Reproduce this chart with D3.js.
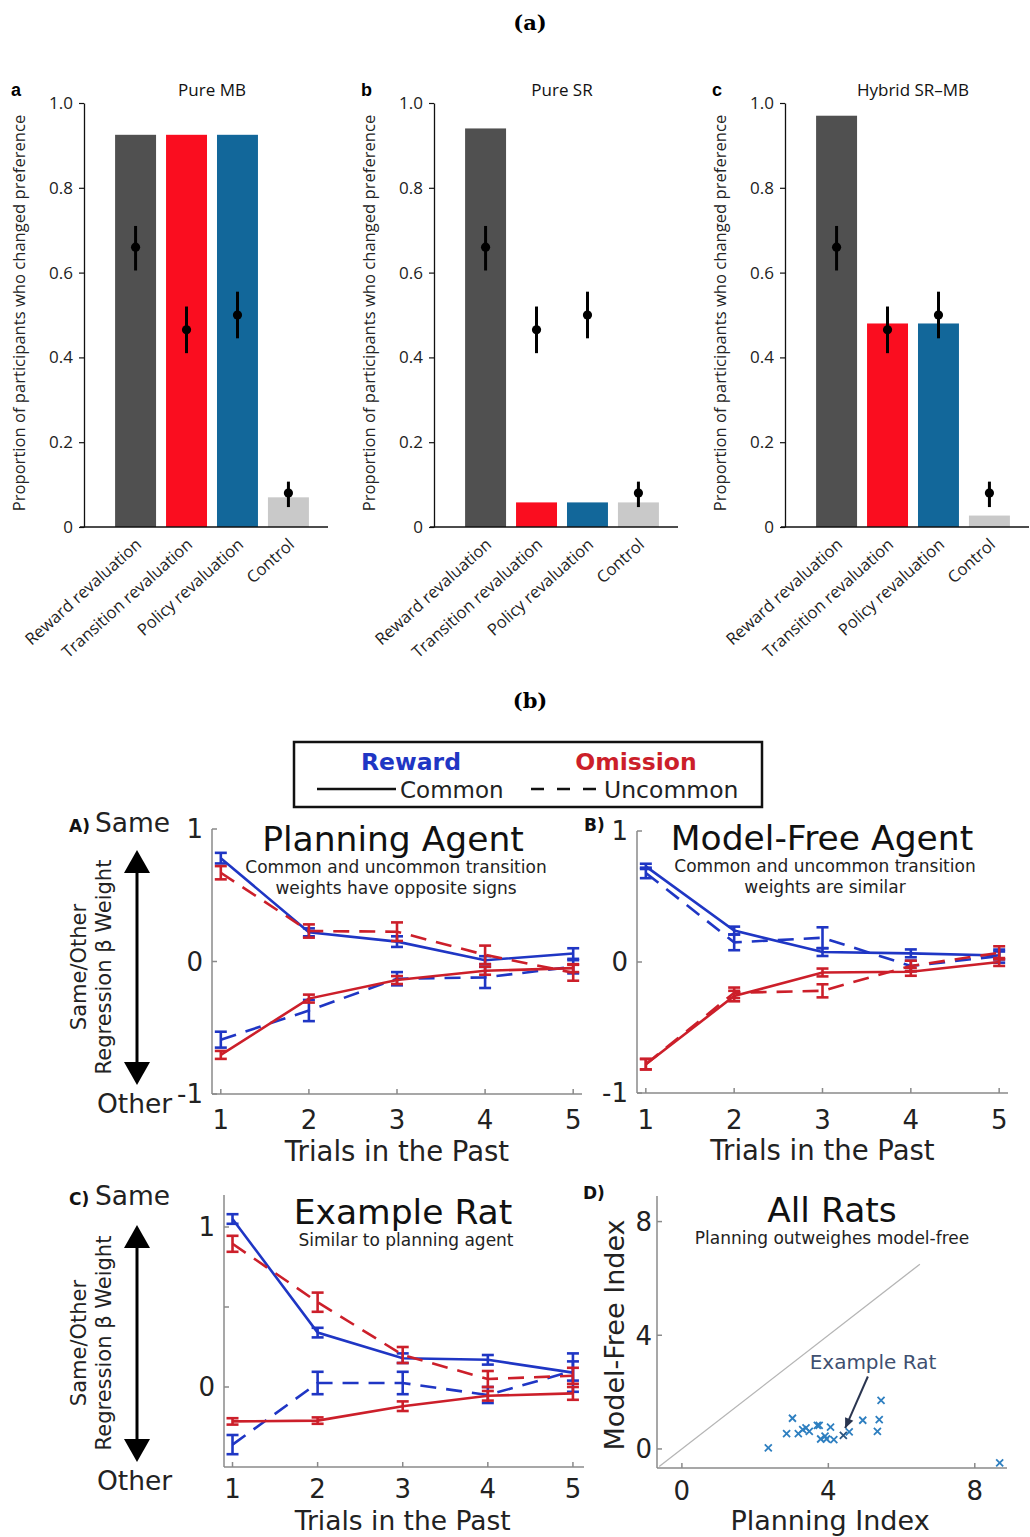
<!DOCTYPE html>
<html>
<head>
<meta charset="utf-8">
<script src="https://cdn.jsdelivr.net/npm/d3@7"></script>
<style>
  html, body { margin: 0; padding: 0; background: #fff; }
  svg { display: block; }
</style>
</head>
<body>
<script>
// ---------- Data: (a) revaluation experiments ----------
const revalCategories = ["Reward revaluation", "Transition revaluation", "Policy revaluation", "Control"];
const modelTitles = ["Pure MB", "Pure SR", "Hybrid SR\u2013MB"];
const panelLetters = ["a", "b", "c"];
const pureMB = [0.925, 0.925, 0.925, 0.07];
const pureSR = [0.94, 0.058, 0.058, 0.058];
const hybridSRMB = [0.97, 0.48, 0.48, 0.027];
const humanMean = [0.66, 0.465, 0.50, 0.08];
const humanLow = [0.605, 0.41, 0.445, 0.047];
const humanHigh = [0.71, 0.52, 0.555, 0.107];
const propTicks = [0, 0.2, 0.4, 0.6, 0.8, 1.0];

// ---------- Data: (b) regression weights ----------
const trialsPast = [1, 2, 3, 4, 5];
// Planning agent
const planRewCommon = [0.78, 0.22, 0.15, 0.01, 0.06];
const planRewCommonErr = [0.04, 0.03, 0.04, 0.03, 0.04];
const planRewUncommon = [-0.59, -0.37, -0.13, -0.12, -0.04];
const planRewUncommonErr = [0.06, 0.08, 0.05, 0.08, 0.05];
const planOmCommon = [-0.705, -0.28, -0.14, -0.07, -0.05];
const planOmCommonErr = [0.03, 0.03, 0.03, 0.03, 0.03];
const planOmUncommon = [0.67, 0.23, 0.225, 0.05, -0.085];
const planOmUncommonErr = [0.05, 0.05, 0.07, 0.07, 0.06];
// Model-free agent
const mfRewCommon = [0.73, 0.24, 0.076, 0.066, 0.05];
const mfRewCommonErr = [0.02, 0.03, 0.03, 0.03, 0.03];
const mfRewUncommon = [0.68, 0.15, 0.185, -0.03, 0.045];
const mfRewUncommonErr = [0.04, 0.06, 0.08, 0.04, 0.05];
const mfOmCommon = [-0.78, -0.26, -0.08, -0.075, 0.0];
const mfOmCommonErr = [0.04, 0.04, 0.03, 0.03, 0.03];
const mfOmUncommon = [-0.78, -0.235, -0.22, -0.03, 0.07];
const mfOmUncommonErr = [0.04, 0.04, 0.05, 0.04, 0.05];
// Example rat
const ratRewCommon = [1.05, 0.34, 0.18, 0.17, 0.09];
const ratRewCommonErr = [0.03, 0.03, 0.03, 0.03, 0.12];
const ratRewUncommon = [-0.36, 0.025, 0.025, -0.05, 0.1];
const ratRewUncommonErr = [0.06, 0.07, 0.07, 0.05, 0.06];
const ratOmCommon = [-0.215, -0.21, -0.12, -0.055, -0.04];
const ratOmCommonErr = [0.02, 0.02, 0.03, 0.03, 0.04];
const ratOmUncommon = [0.895, 0.53, 0.2, 0.05, 0.07];
const ratOmUncommonErr = [0.05, 0.06, 0.05, 0.05, 0.05];
// All rats
const planningIndex = [2.36, 2.86, 3.02, 3.18, 3.30, 3.39, 3.48, 3.70, 3.75, 3.79, 3.91, 3.95, 4.06, 4.15, 4.41, 4.57, 4.94, 5.34, 5.39, 5.44, 8.68];
const modelFreeIndex = [0.04, 0.54, 1.08, 0.54, 0.68, 0.74, 0.62, 0.83, 0.83, 0.35, 0.45, 0.35, 0.77, 0.33, 0.48, 0.60, 1.01, 0.62, 1.03, 1.71, -0.49];
const exampleRatIndex = 14;

// ---------- Styling ----------
const barColors = ["#505050", "#fa0d1f", "#12679a", "#c9c9c9"];
const rewardBlue = "#1f36c4";
const omissionRed = "#cc1f2a";
const axisGray = "#8a8a8a";
const sansA = "'Open Sans', 'Noto Sans', sans-serif";
const sansB = "'DejaVu Sans', Verdana, sans-serif";
const serif = "'DejaVu Serif', 'Liberation Serif', serif";

const svg = d3.select("body").append("svg")
  .attr("width", 1030).attr("height", 1537)
  .attr("viewBox", "0 0 1030 1537");
svg.append("rect").attr("width", 1030).attr("height", 1537).attr("fill", "#fff");

// ---------- Figure headings ----------
svg.append("text").attr("x", 530).attr("y", 30).attr("text-anchor", "middle")
  .attr("font-family", serif).attr("font-weight", "bold").attr("font-size", 21).text("(a)");
svg.append("text").attr("x", 530).attr("y", 708).attr("text-anchor", "middle")
  .attr("font-family", serif).attr("font-weight", "bold").attr("font-size", 21).text("(b)");

// ---------- (a) bar panels ----------
const barSeries = [pureMB, pureSR, hybridSRMB];
const barAxisX = [84, 434, 785];
const yProp = d3.scaleLinear().domain([0, 1]).range([527, 103]);

barSeries.forEach((vals, p) => {
  const ax = barAxisX[p];
  const g = svg.append("g");
  const x = d3.scaleBand().domain(revalCategories)
    .range([ax + 26, ax + 230]).paddingInner(0.196).paddingOuter(0.1);

  g.selectAll("rect.bar").data(revalCategories).join("rect")
    .attr("x", d => x(d)).attr("width", x.bandwidth())
    .attr("y", (d, i) => yProp(vals[i]))
    .attr("height", (d, i) => yProp(0) - yProp(vals[i]))
    .attr("fill", (d, i) => barColors[i]);

  // y axis
  const yAxis = g.append("g").attr("transform", `translate(${ax},0)`)
    .call(d3.axisLeft(yProp).tickValues(propTicks).tickSizeOuter(0).tickSizeInner(5).tickPadding(6)
      .tickFormat(d => d === 0 ? "0" : d3.format(".1f")(d)));
  yAxis.select(".domain").attr("stroke", "#111").attr("stroke-width", 1.3);
  yAxis.selectAll(".tick line").attr("stroke", "#111").attr("stroke-width", 1.2);
  yAxis.selectAll(".tick text").attr("font-family", sansA).attr("font-size", 17).attr("fill", "#222");

  // x baseline
  g.append("line").attr("x1", ax - 4).attr("x2", ax + 244)
    .attr("y1", yProp(0)).attr("y2", yProp(0)).attr("stroke", "#111").attr("stroke-width", 1.3);

  // rotated category labels
  g.selectAll("text.cat").data(revalCategories).join("text")
    .attr("transform", d => `translate(${x(d) + x.bandwidth() / 2 + 7},${yProp(0) + 19}) rotate(-42)`)
    .attr("text-anchor", "end").attr("font-family", sansA).attr("font-size", 16.5).attr("fill", "#222")
    .text(d => d);

  // human data with error bars
  const eg = g.append("g");
  revalCategories.forEach((c, i) => {
    const cx = x(c) + x.bandwidth() / 2;
    eg.append("line").attr("x1", cx).attr("x2", cx)
      .attr("y1", yProp(humanLow[i])).attr("y2", yProp(humanHigh[i]))
      .attr("stroke", "#000").attr("stroke-width", 3);
    eg.append("circle").attr("cx", cx).attr("cy", yProp(humanMean[i])).attr("r", 4.6).attr("fill", "#000");
  });

  // panel letter and title
  svg.append("text").attr("x", ax - 73).attr("y", 96).attr("font-family", "'Liberation Sans', Arial, sans-serif")
    .attr("font-weight", "bold").attr("font-size", 18).text(panelLetters[p]);
  svg.append("text").attr("x", ax + 128).attr("y", 96).attr("text-anchor", "middle")
    .attr("font-family", sansA).attr("font-size", 17).attr("fill", "#111").text(modelTitles[p]);
  svg.append("text").attr("transform", `translate(${ax - 59},${yProp(0.5) - 2}) rotate(-90)`)
    .attr("text-anchor", "middle").attr("font-family", sansA).attr("font-size", 16.6).attr("fill", "#222")
    .text("Proportion of participants who changed preference");
});

// ---------- (b) legend ----------
const lg = svg.append("g");
lg.append("rect").attr("x", 294).attr("y", 742).attr("width", 468).attr("height", 65)
  .attr("fill", "none").attr("stroke", "#111").attr("stroke-width", 2.5);
lg.append("text").attr("x", 411).attr("y", 770).attr("text-anchor", "middle").attr("font-family", sansB)
  .attr("font-weight", "bold").attr("font-size", 23.5).attr("fill", rewardBlue).text("Reward");
lg.append("text").attr("x", 636).attr("y", 770).attr("text-anchor", "middle").attr("font-family", sansB)
  .attr("font-weight", "bold").attr("font-size", 23.5).attr("fill", omissionRed).text("Omission");
lg.append("line").attr("x1", 317).attr("x2", 396).attr("y1", 789).attr("y2", 789)
  .attr("stroke", "#111").attr("stroke-width", 2.5);
lg.append("text").attr("x", 400).attr("y", 798).attr("font-family", sansB).attr("font-size", 23).attr("fill", "#222").text("Common");
lg.append("line").attr("x1", 531).attr("x2", 597).attr("y1", 789).attr("y2", 789)
  .attr("stroke", "#111").attr("stroke-width", 2.5).attr("stroke-dasharray", "13,13");
lg.append("text").attr("x", 604).attr("y", 798).attr("font-family", sansB).attr("font-size", 23.5).attr("fill", "#222").text("Uncommon");

// ---------- (b) helpers ----------
function drawSeries(g, x, y, vals, errs, color, dashed) {
  const line = d3.line().x((d, i) => x(trialsPast[i])).y(d => y(d));
  g.append("path").datum(vals).attr("d", line).attr("fill", "none")
    .attr("stroke", color).attr("stroke-width", 2.6)
    .attr("stroke-dasharray", dashed ? "16,10" : null);
  vals.forEach((v, i) => {
    const cx = x(trialsPast[i]);
    const y0 = y(v - errs[i]), y1 = y(v + errs[i]);
    g.append("line").attr("x1", cx).attr("x2", cx).attr("y1", y0).attr("y2", y1)
      .attr("stroke", color).attr("stroke-width", 2.6);
    [y0, y1].forEach(yy => g.append("line").attr("x1", cx - 6).attr("x2", cx + 6)
      .attr("y1", yy).attr("y2", yy).attr("stroke", color).attr("stroke-width", 2.6));
  });
}

function drawArrow(g, cx, top, bottom) {
  g.append("line").attr("x1", cx).attr("x2", cx).attr("y1", top + 20).attr("y2", bottom - 20)
    .attr("stroke", "#000").attr("stroke-width", 3);
  g.append("path").attr("d", `M${cx},${top} L${cx - 13},${top + 23} L${cx + 13},${top + 23} Z`).attr("fill", "#000");
  g.append("path").attr("d", `M${cx},${bottom} L${cx - 13},${bottom - 23} L${cx + 13},${bottom - 23} Z`).attr("fill", "#000");
}

function weightPanel(opt) {
  const g = svg.append("g");
  const x = d3.scaleLinear().domain(opt.xDomain).range(opt.xRange);
  const y = d3.scaleLinear().domain(opt.yDomain).range(opt.yRange);
  // axes
  g.append("line").attr("x1", opt.xRange[0]).attr("x2", opt.xRange[0]).attr("y1", opt.yRange[0]).attr("y2", opt.yRange[1])
    .attr("stroke", axisGray).attr("stroke-width", 1.5);
  g.append("line").attr("x1", opt.xRange[0]).attr("x2", opt.xRange[1]).attr("y1", opt.yRange[0]).attr("y2", opt.yRange[0])
    .attr("stroke", axisGray).attr("stroke-width", 1.5);
  trialsPast.forEach(t => {
    g.append("line").attr("x1", x(t)).attr("x2", x(t)).attr("y1", opt.yRange[0]).attr("y2", opt.yRange[0] - 5)
      .attr("stroke", axisGray).attr("stroke-width", 1.5);
    g.append("text").attr("x", x(t)).attr("y", opt.yRange[0] + opt.tickDy).attr("text-anchor", "middle")
      .attr("font-family", sansB).attr("font-size", 26).attr("fill", "#222").text(t);
  });
  opt.yTicks.forEach(v => {
    g.append("line").attr("x1", opt.xRange[0]).attr("x2", opt.xRange[0] + 5).attr("y1", y(v)).attr("y2", y(v))
      .attr("stroke", axisGray).attr("stroke-width", 1.5);
  });
  opt.yLabels.forEach(v => {
    g.append("text").attr("x", opt.xRange[0] - 9).attr("y", y(v)).attr("dy", "0.36em").attr("text-anchor", "end")
      .attr("font-family", sansB).attr("font-size", 26).attr("fill", "#222").text(v);
  });
  g.append("text").attr("x", (x(1) + x(5)) / 2).attr("y", opt.yRange[0] + opt.titleDy).attr("text-anchor", "middle")
    .attr("font-family", sansB).attr("font-size", opt.xTitleSize).attr("fill", "#222").text("Trials in the Past");
  // titles
  g.append("text").attr("x", opt.titleX).attr("y", opt.titleY).attr("text-anchor", "middle")
    .attr("font-family", sansB).attr("font-size", 34.5).attr("fill", "#111").text(opt.title);
  opt.subtitle.forEach((s, k) => g.append("text").attr("x", opt.titleX + 3).attr("y", opt.titleY + 22 + k * 21)
    .attr("text-anchor", "middle").attr("font-family", sansB).attr("font-size", 17).attr("fill", "#222").text(s));
  // series
  const s = opt.series;
  drawSeries(g, x, y, s.rewCommon, s.rewCommonErr, rewardBlue, false);
  drawSeries(g, x, y, s.rewUncommon, s.rewUncommonErr, rewardBlue, true);
  drawSeries(g, x, y, s.omCommon, s.omCommonErr, omissionRed, false);
  drawSeries(g, x, y, s.omUncommon, s.omUncommonErr, omissionRed, true);
  return g;
}

function sideLabels(letter, sameY, otherY, arrowTop, arrowBottom, midY) {
  const g = svg.append("g");
  g.append("text").attr("x", 69).attr("y", sameY).attr("font-family", sansB).attr("font-weight", "bold")
    .attr("font-size", 17).attr("fill", "#111").text(letter);
  g.append("text").attr("x", 95).attr("y", sameY).attr("font-family", sansB).attr("font-size", 26.5).attr("fill", "#222").text("Same");
  g.append("text").attr("x", 97).attr("y", otherY).attr("font-family", sansB).attr("font-size", 26.5).attr("fill", "#222").text("Other");
  g.append("text").attr("transform", `translate(86,${midY}) rotate(-90)`).attr("text-anchor", "middle")
    .attr("font-family", sansB).attr("font-size", 21).attr("fill", "#222").text("Same/Other");
  g.append("text").attr("transform", `translate(111,${midY}) rotate(-90)`).attr("text-anchor", "middle")
    .attr("font-family", sansB).attr("font-size", 21).attr("fill", "#222").text("Regression \u03B2 Weight");
  drawArrow(g, 137, arrowTop, arrowBottom);
}

// A) Planning agent
sideLabels("A)", 832, 1113, 850, 1085, 967);
weightPanel({
  xDomain: [0.9, 5.1], xRange: [212, 582], yDomain: [-1, 1], yRange: [1094, 829],
  yTicks: [-1, 0, 1], yLabels: [1, 0, -1], tickDy: 35, titleDy: 67, xTitleSize: 27.5,
  title: "Planning Agent", titleX: 393, titleY: 851,
  subtitle: ["Common and uncommon transition", "weights have opposite signs"],
  series: { rewCommon: planRewCommon, rewCommonErr: planRewCommonErr, rewUncommon: planRewUncommon, rewUncommonErr: planRewUncommonErr,
            omCommon: planOmCommon, omCommonErr: planOmCommonErr, omUncommon: planOmUncommon, omUncommonErr: planOmUncommonErr }
});

// B) Model-free agent
svg.append("text").attr("x", 584).attr("y", 831).attr("font-family", sansB).attr("font-weight", "bold")
  .attr("font-size", 17).attr("fill", "#111").text("B)");
weightPanel({
  xDomain: [0.9, 5.1], xRange: [637, 1008], yDomain: [-1, 1], yRange: [1093, 831],
  yTicks: [-1, 0, 1], yLabels: [1, 0, -1], tickDy: 36, titleDy: 67, xTitleSize: 27.5,
  title: "Model-Free Agent", titleX: 822, titleY: 850,
  subtitle: ["Common and uncommon transition", "weights are similar"],
  series: { rewCommon: mfRewCommon, rewCommonErr: mfRewCommonErr, rewUncommon: mfRewUncommon, rewUncommonErr: mfRewUncommonErr,
            omCommon: mfOmCommon, omCommonErr: mfOmCommonErr, omUncommon: mfOmUncommon, omUncommonErr: mfOmUncommonErr }
});

// C) Example rat
sideLabels("C)", 1205, 1490, 1225, 1462, 1343);
weightPanel({
  xDomain: [0.9, 5.13], xRange: [224, 584], yDomain: [-0.5, 1.2], yRange: [1467, 1195],
  yTicks: [0, 0.5, 1], yLabels: [1, 0], tickDy: 31, titleDy: 63, xTitleSize: 26.5,
  title: "Example Rat", titleX: 403, titleY: 1224,
  subtitle: ["Similar to planning agent"],
  series: { rewCommon: ratRewCommon, rewCommonErr: ratRewCommonErr, rewUncommon: ratRewUncommon, rewUncommonErr: ratRewUncommonErr,
            omCommon: ratOmCommon, omCommonErr: ratOmCommonErr, omUncommon: ratOmUncommon, omUncommonErr: ratOmUncommonErr }
});

// D) All rats scatter
(function () {
  const g = svg.append("g");
  const x = d3.scaleLinear().domain([-0.68, 8.88]).range([657, 1007]);
  const y = d3.scaleLinear().domain([-0.67, 8.9]).range([1468, 1196]);
  g.append("text").attr("x", 583).attr("y", 1199).attr("font-family", sansB).attr("font-weight", "bold")
    .attr("font-size", 17).attr("fill", "#111").text("D)");
  g.append("line").attr("x1", x.range()[0]).attr("x2", x.range()[0]).attr("y1", y.range()[0]).attr("y2", y.range()[1])
    .attr("stroke", axisGray).attr("stroke-width", 1.5);
  g.append("line").attr("x1", x.range()[0]).attr("x2", x.range()[1]).attr("y1", y.range()[0]).attr("y2", y.range()[0])
    .attr("stroke", axisGray).attr("stroke-width", 1.5);
  [0, 4, 8].forEach(t => {
    g.append("line").attr("x1", x(t)).attr("x2", x(t)).attr("y1", y.range()[0]).attr("y2", y.range()[0] - 5)
      .attr("stroke", axisGray).attr("stroke-width", 1.5);
    g.append("line").attr("x1", x.range()[0]).attr("x2", x.range()[0] + 5).attr("y1", y(t)).attr("y2", y(t))
      .attr("stroke", axisGray).attr("stroke-width", 1.5);
    g.append("text").attr("x", x(t)).attr("y", y.range()[0] + 32).attr("text-anchor", "middle")
      .attr("font-family", sansB).attr("font-size", 26).attr("fill", "#222").text(t);
    g.append("text").attr("x", x.range()[0] - 5).attr("y", y(t)).attr("dy", "0.36em").attr("text-anchor", "end")
      .attr("font-family", sansB).attr("font-size", 26).attr("fill", "#222").text(t);
  });
  g.append("text").attr("x", 830).attr("y", 1530).attr("text-anchor", "middle")
    .attr("font-family", sansB).attr("font-size", 27).attr("fill", "#222").text("Planning Index");
  g.append("text").attr("transform", `translate(624,1335) rotate(-90)`).attr("text-anchor", "middle")
    .attr("font-family", sansB).attr("font-size", 27).attr("fill", "#222").text("Model-Free Index");
  g.append("text").attr("x", 832).attr("y", 1222).attr("text-anchor", "middle")
    .attr("font-family", sansB).attr("font-size", 34.5).attr("fill", "#111").text("All Rats");
  g.append("text").attr("x", 832).attr("y", 1244).attr("text-anchor", "middle")
    .attr("font-family", sansB).attr("font-size", 17).attr("fill", "#222").text("Planning outweighes model-free");
  // identity line
  g.append("line").attr("x1", x(-0.62)).attr("y1", y(-0.62)).attr("x2", x(6.5)).attr("y2", y(6.5))
    .attr("stroke", "#b5b5b5").attr("stroke-width", 1.3);
  // markers
  planningIndex.forEach((px, i) => {
    const cx = x(px), cy = y(modelFreeIndex[i]), r = 3.5;
    const col = i === exampleRatIndex ? "#2c5680" : "#2e7fc0";
    g.append("path").attr("d", `M${cx - r},${cy - r}L${cx + r},${cy + r}M${cx - r},${cy + r}L${cx + r},${cy - r}`)
      .attr("stroke", col).attr("stroke-width", 1.8);
  });
  // annotation
  g.append("text").attr("x", 873).attr("y", 1369).attr("text-anchor", "middle")
    .attr("font-family", sansB).attr("font-size", 20).attr("fill", "#3f5070").text("Example Rat");
  const ax0 = x(5.08), ay0 = y(2.55);
  const ax1 = x(planningIndex[exampleRatIndex] + 0.05), ay1 = y(modelFreeIndex[exampleRatIndex] + 0.25);
  g.append("line").attr("x1", ax0).attr("y1", ay0).attr("x2", ax1).attr("y2", ay1)
    .attr("stroke", "#2a3550").attr("stroke-width", 2);
  const ang = Math.atan2(ay1 - ay0, ax1 - ax0);
  const hl = 10, hw = 4.5;
  const bx = ax1 - hl * Math.cos(ang), by = ay1 - hl * Math.sin(ang);
  g.append("path").attr("d", `M${ax1},${ay1}L${bx + hw * Math.sin(ang)},${by - hw * Math.cos(ang)}L${bx - hw * Math.sin(ang)},${by + hw * Math.cos(ang)}Z`)
    .attr("fill", "#2a3550");
})();
</script>
</body>
</html>
